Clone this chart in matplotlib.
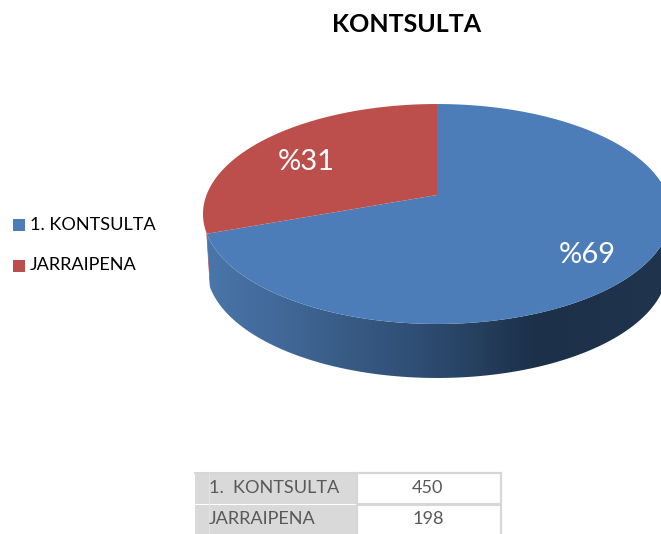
import matplotlib
matplotlib.use('Agg')
import matplotlib.pyplot as plt
import matplotlib.patches as mpatches
from matplotlib.colors import LinearSegmentedColormap
import numpy as np

plt.rcParams['font.family'] = ['Lato', 'DejaVu Sans']

title = 'KONTSULTA'
categories = ['1. KONTSULTA', 'JARRAIPENA']
table_labels = ['1.  KONTSULTA', 'JARRAIPENA']
counts = [450, 198]
colors = ['#4c7db8', '#bc4f4c']

W, H = 661, 534
fig = plt.figure(figsize=(W / 100, H / 100), dpi=100)
ax = fig.add_axes([0, 0, 1, 1])
ax.set_xlim(0, W)
ax.set_ylim(H, 0)
ax.axis('off')

# pie is a flat disc seen in perspective, hub sits above the ellipse middle
CX, CY = 437, 195
RX, RY, K = 230.5, 106.7, 0.1727
DEPTH = 54


def project(deg, scale=1.0, dy=0):
    a = np.radians(deg)
    u, v = np.cos(a), np.sin(a)
    d = 1 + K * v
    return np.column_stack([CX + scale * RX * u / d, CY + dy - RY * v / d])


def hub_slice(a1, a2):
    arc = project(np.linspace(a1, a2, 200))
    return np.vstack([[CX, CY], arc])


def side_band(a1, a2):
    top = project(np.linspace(a1, a2, 200))
    low = project(np.linspace(a2, a1, 200), scale=0.985, dy=DEPTH)
    return np.vstack([top, low])


total = sum(counts)
sweep = [c / total * 360 for c in counts]
# red slice starts at 12 o'clock going anticlockwise, blue takes the rest
red_start, red_end = 90, 90 + sweep[1]
blue_start, blue_end = red_end, red_end + sweep[0]

# side wall, only a sliver of the red one shows
red_side = mpatches.Polygon(side_band(red_end - 0.6, red_end + 0.5), closed=True,
                            facecolor=colors[1], edgecolor='none')
ax.add_patch(red_side)

side_cmap = LinearSegmentedColormap.from_list('side', [
    (0.0, '#4a76ab'), (0.2, '#3f6593'), (0.5, '#2c4a6e'),
    (0.72, '#1c3049'), (1.0, '#20344e')])
blue_side = mpatches.Polygon(side_band(red_end, blue_end), closed=True,
                             facecolor='none', edgecolor='none')
ax.add_patch(blue_side)
im = ax.imshow(np.linspace(0, 1, 256).reshape(1, -1), cmap=side_cmap, aspect='auto',
               extent=(205, 665, 380, 220), zorder=1)
im.set_clip_path(blue_side)
ax.set_xlim(0, W)
ax.set_ylim(H, 0)

# top face
ax.add_patch(mpatches.Polygon(hub_slice(blue_start, blue_end), closed=True,
                              facecolor=colors[0], edgecolor='none', zorder=2))
ax.add_patch(mpatches.Polygon(hub_slice(red_start, red_end), closed=True,
                              facecolor=colors[1], edgecolor='none', zorder=2))

# pct labels
pct_pos = [(587, 255), (306, 162)]
for c, (px, py) in zip(counts, pct_pos):
    ax.text(px, py, '%' + str(round(c / total * 100)), color='white', fontsize=21,
            ha='center', va='center', zorder=3)

ax.text(407, 24, title, fontsize=18, fontweight='bold', color='black',
        ha='center', va='center')

# legend
legend_y = [224.5, 265.5]
for name, col, ly in zip(categories, colors, legend_y):
    ax.add_patch(mpatches.Rectangle((13, ly - 6), 12, 12, facecolor=col, edgecolor='none'))
    ax.text(30, ly, name, fontsize=13.1, color='black', ha='left', va='center')

# data table under the pie, bottom row runs off the image
row_top = [473, 505]
row_h = [31, 40]
text_y = [488, 519]
for lab, c, y0, h, ty in zip(table_labels, counts, row_top, row_h, text_y):
    ax.add_patch(mpatches.Rectangle((195, y0), 162, h, facecolor='#d9d9d9', edgecolor='none'))
    ax.add_patch(mpatches.Rectangle((357, y0), 144, h, facecolor='white',
                                    edgecolor='#d6d6d6', linewidth=1.5))
    ax.text(209, ty, lab, fontsize=13.1, color='#595959', ha='left', va='center')
    ax.text(428, ty, str(c), fontsize=13.1, color='#595959', ha='center', va='center')
ax.plot([195, 501], [473, 473], color='#d6d6d6', lw=1.5)
ax.plot([209, 209], [473, 534], color='#e2e2e2', lw=0.8)

fig.savefig('out.png', dpi=100)
